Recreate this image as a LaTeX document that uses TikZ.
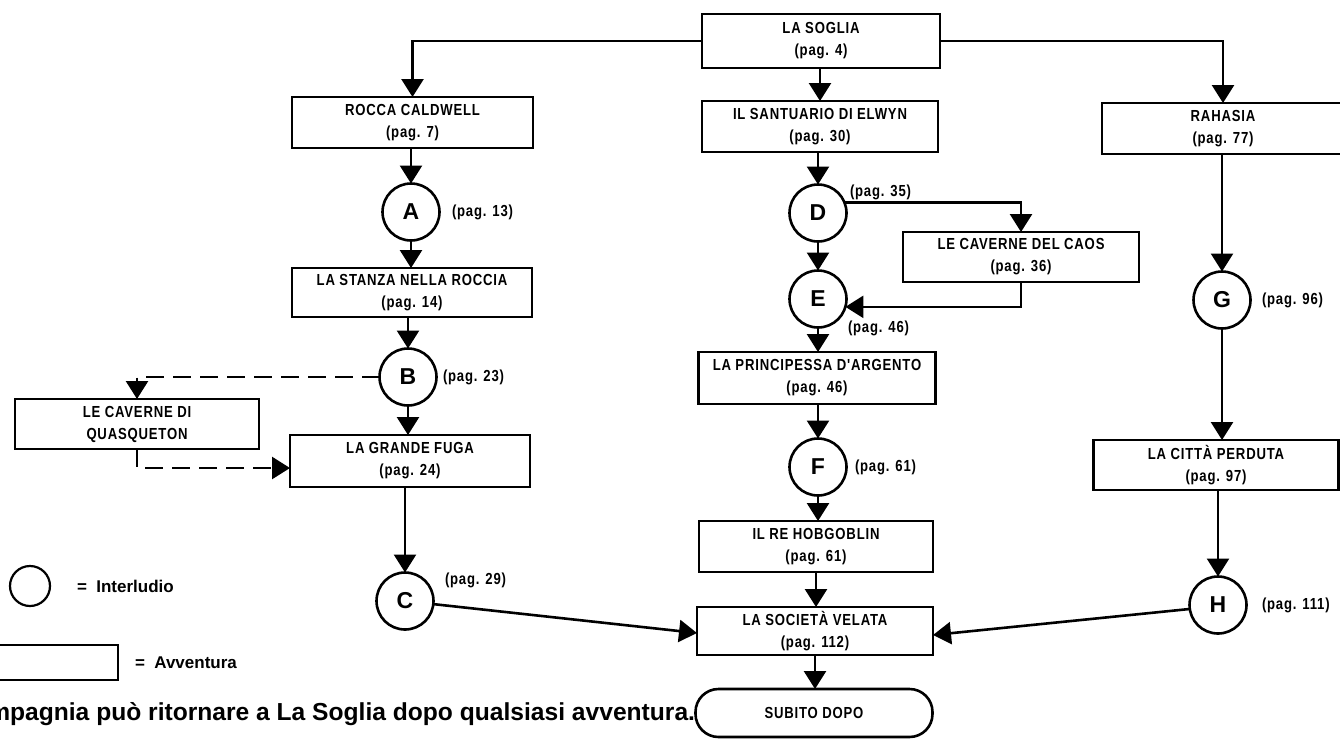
\documentclass[tikz,border=0pt]{standalone}
\usepackage{fontspec}
\setmainfont{Liberation Sans}
\newfontfamily\condf{Liberation Sans}[FakeStretch=0.82,LetterSpace=5]
\usetikzlibrary{arrows.meta,calc}
\begin{document}
\begin{tikzpicture}[x=1pt,y=-1pt,
  every node/.style={inner sep=0pt, outer sep=0pt},
  adv/.style={draw, line width=2.6pt, rectangle, align=center, font=\condf\bfseries\fontsize{16}{22}\selectfont},
  inter/.style={draw, line width=2.6pt, circle, minimum size=57pt, font=\bfseries\fontsize{23}{23}\selectfont},
  pg/.style={anchor=west, font=\condf\bfseries\fontsize{16}{18}\selectfont},
  conn/.style={line width=2.6pt, -{Triangle[width=22pt,length=18pt]}},
  dconn/.style={conn, dash pattern=on 18pt off 9pt},
  leg/.style={anchor=west, font=\bfseries\fontsize{17}{17}\selectfont},
]
\useasboundingbox (0,0) rectangle (1340,745);
\clip (0,0) rectangle (1340,745);

% adventures
\node[adv, minimum width=238pt, minimum height=54pt] (soglia) at (821,41) {LA SOGLIA\\(pag. 4)};
\node[adv, minimum width=241pt, minimum height=51pt] (rocca) at (412.5,122.5) {ROCCA CALDWELL\\(pag. 7)};
\node[adv, minimum width=236pt, minimum height=51pt] (santuario) at (820,126.5) {IL SANTUARIO DI ELWYN\\(pag. 30)};
\node[adv, minimum width=242pt, minimum height=51pt] (rahasia) at (1223,128.5) {RAHASIA\\(pag. 77)};
\node[adv, minimum width=240pt, minimum height=49pt] (stanza) at (412,292.5) {LA STANZA NELLA ROCCIA\\(pag. 14)};
\node[adv, minimum width=244pt, minimum height=50pt] (quasq) at (137,424) {LE CAVERNE DI\\QUASQUETON};
\node[adv, minimum width=240pt, minimum height=52pt] (fuga) at (410,461) {LA GRANDE FUGA\\(pag. 24)};
\node[adv, minimum width=236pt, minimum height=50pt] (caos) at (1021,257) {LE CAVERNE DEL CAOS\\(pag. 36)};
\node[adv, minimum width=237pt, minimum height=52pt] (princ) at (817,378) {LA PRINCIPESSA D'ARGENTO\\(pag. 46)};
\node[adv, minimum width=234pt, minimum height=51pt] (hob) at (816,546.5) {IL RE HOBGOBLIN\\(pag. 61)};
\node[adv, minimum width=236pt, minimum height=48pt] (soc) at (815,631) {LA SOCIETÀ VELATA\\(pag. 112)};
\node[adv, rounded corners=23pt, minimum width=237pt, minimum height=48pt] (subito) at (814,713) {SUBITO DOPO};
\node[adv, minimum width=245pt, minimum height=50pt] (citta) at (1216,465) {LA CITTÀ PERDUTA\\(pag. 97)};

% interludes
\node[inter] (A) at (411,212) {A};
\node[inter] (B) at (408,377) {B};
\node[inter] (C) at (405,601) {C};
\node[inter] (D) at (818,213) {D};
\node[inter] (E) at (818,299) {E};
\node[inter] (F) at (818,467) {F};
\node[inter] (G) at (1222,300) {G};
\node[inter] (H) at (1218,605) {H};

% page labels
\node[pg] (pA) at (452,212) {(pag. 13)};
\node[pg] (pB) at (443,377) {(pag. 23)};
\node[pg] (pC) at (445,580) {(pag. 29)};
\node[pg] (pD) at (850,192) {(pag. 35)};
\node[pg] (pE) at (848,328) {(pag. 46)};
\node[pg] (pF) at (855,467) {(pag. 61)};
\node[pg] (pG) at (1262,300) {(pag. 96)};
\node[pg] (pH) at (1262,605) {(pag. 111)};

% connectors
\draw[conn] (soglia.west) -| (rocca.north);
\draw[conn] (soglia.east) -| (rahasia.north);
\draw[conn] (santuario.north |- soglia.south) -- (santuario.north);
\draw[conn] (rocca.south -| A) -- (A.north);
\draw[conn] (A.south) -- (A.south |- stanza.north);
\draw[conn] (stanza.south -| B) -- (B.north);
\draw[conn] (B.south) -- (B.south |- fuga.north);
\draw[dconn] (B.west) -| (quasq.north);
\draw[dconn] (quasq.south) |- ([yshift=-7pt]fuga.west);
\draw[conn] (fuga.south -| C) -- (C.north);
\draw[conn] (C) -- ([yshift=-2pt]soc.west);
\draw[conn] (santuario.south -| D) -- (D.north);
\draw[conn] (D.22) -| (caos.north);
\draw[conn] (caos.south) |- (E.-16);
\draw[conn] (D.south) -- (E.north);
\draw[conn] (E.south) -- (E.south |- princ.north);
\draw[conn] (princ.south -| F) -- (F.north);
\draw[conn] (F.south) -- (F.south |- hob.north);
\draw[conn] (hob.south) -- (hob.south |- soc.north);
\draw[conn] (soc.south) -- (soc.south |- subito.north);
\draw[conn] (rahasia.south -| G) -- (G.north);
\draw[conn] (G.south) -- (G.south |- citta.north);
\draw[conn] (citta.south -| H) -- (H.north);
\draw[conn] (H.188) -- ([yshift=-4pt]soc.east);

% legend
\node[draw, circle, line width=2.2pt, minimum size=40pt] (legc) at (30,586) {};
\node[leg] (legct) at (77,586) {= \ Interludio};
\node[draw, line width=2.2pt, minimum width=178pt, minimum height=35pt] (legr) at (29,662.5) {};
\node[leg] (legrt) at (135,663) {= \ Avventura};
\node[anchor=base east, font=\bfseries\fontsize{24.6}{24.6}\selectfont] (note) at (695,720) {La compagnia può ritornare a La Soglia dopo qualsiasi avventura.};
\end{tikzpicture}
\end{document}
